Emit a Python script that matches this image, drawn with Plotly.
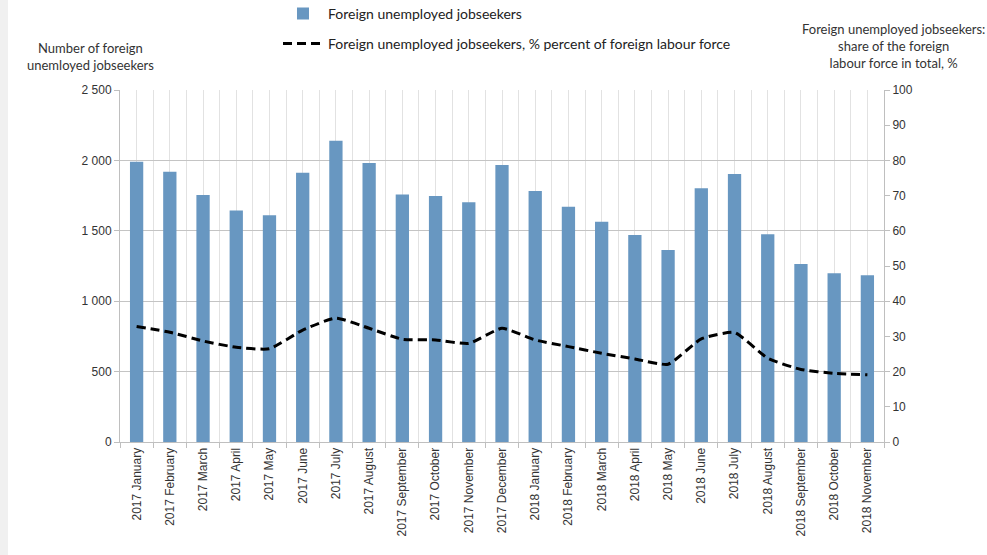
import plotly.graph_objects as go

months = ["January", "February", "March", "April", "May", "June", "July",
          "August", "September", "October", "November", "December"]
categories = [f"2017 {m}" for m in months] + [f"2018 {m}" for m in months[:11]]

jobseekers = [1990, 1920, 1754, 1645, 1610, 1913, 2140, 1981, 1757, 1747, 1702, 1967,
              1783, 1671, 1565, 1470, 1364, 1802, 1903, 1475, 1264, 1198, 1184]
share_pct = [32.8, 31.2, 28.7, 26.9, 26.5, 31.8, 35.2, 32.3, 29.2, 29.0, 28.0, 32.3,
             29.0, 27.1, 25.2, 23.6, 22.1, 29.3, 31.1, 23.8, 20.6, 19.5, 19.1]

left_ticks = [0, 500, 1000, 1500, 2000, 2500]
right_ticks = list(range(0, 101, 10))

idx = list(range(len(categories)))
tick_font = dict(family="Liberation Sans, Arial, sans-serif", size=12, color="#333333")
title_font = dict(family="Lato, Open Sans, sans-serif", size=13, color="#333333")

fig = go.Figure()
fig.add_trace(go.Bar(
    x=idx, y=jobseekers, name="Foreign unemployed jobseekers",
    marker=dict(color="#6897c1", line=dict(width=0)), width=0.4,
    legendgroup="a", yaxis="y",
))
fig.add_trace(go.Scatter(
    x=idx, y=share_pct, name="Foreign unemployed jobseekers, % percent of foreign labour force",
    mode="lines", line=dict(color="black", width=3, dash="9px,5px", shape="spline", smoothing=0.5),
    legendgroup="b", yaxis="y2",
))

fig.update_layout(
    width=987, height=555,
    margin=dict(l=120, r=103, t=90, b=113, autoexpand=False),
    paper_bgcolor="white", plot_bgcolor="white",
    separators=". ",
    showlegend=True,
    legend=dict(x=0.2068, y=1.262, xanchor="left", yanchor="top",
                font=dict(family="Lato, Open Sans, sans-serif", size=14, color="#222222"),
                traceorder="grouped", tracegroupgap=9, bgcolor="rgba(0,0,0,0)",
                itemwidth=40),
    xaxis=dict(
        range=[-0.5, len(categories) - 0.5],
        tickmode="array", tickvals=idx, ticktext=categories, tickangle=-90,
        tickfont=tick_font, ticks="", showgrid=True, gridcolor="#e2e2e2", gridwidth=1,
        showline=True, linecolor="#bfbfbf", linewidth=1, zeroline=False,
        minor=dict(tick0=-0.5, dtick=1, showgrid=True, gridcolor="#e2e2e2", gridwidth=1,
                   ticks="outside", ticklen=5, tickcolor="#bfbfbf"),
    ),
    yaxis=dict(
        range=[0, 2500], tickmode="array", tickvals=left_ticks, tickformat=",d",
        tickfont=tick_font, ticks="outside", ticklen=5, tickcolor="#bfbfbf",
        showgrid=True, gridcolor="#c4c4c4", gridwidth=1,
        showline=True, linecolor="#bfbfbf", zeroline=False,
    ),
    yaxis2=dict(
        range=[0, 100], tickmode="array", tickvals=right_ticks, overlaying="y", side="right",
        tickfont=tick_font, ticks="outside", ticklen=5, tickcolor="#bfbfbf",
        showgrid=False, showline=True, linecolor="#bfbfbf", zeroline=False,
    ),
    annotations=[
        dict(text="Number of foreign<br>unemloyed jobseekers", xref="paper", yref="paper",
             x=-0.039, y=1.0425, xanchor="center", yanchor="bottom", showarrow=False,
             font=title_font, align="center"),
        dict(text="Foreign unemployed jobseekers:<br>share of the foreign<br>labour force in total, %",
             xref="paper", yref="paper", x=1.0118, y=1.048, xanchor="center", yanchor="bottom",
             showarrow=False, font=title_font, align="center"),
    ],
    shapes=[
        dict(type="rect", xref="paper", yref="paper", x0=-0.16, x1=-0.1466, y0=-0.35, y1=1.3,
             fillcolor="#f0f0f0", line=dict(width=0), layer="below"),
    ],
)

fig.write_html("out.html", config={"displayModeBar": False},
               post_script="document.body.style.margin='0';")
